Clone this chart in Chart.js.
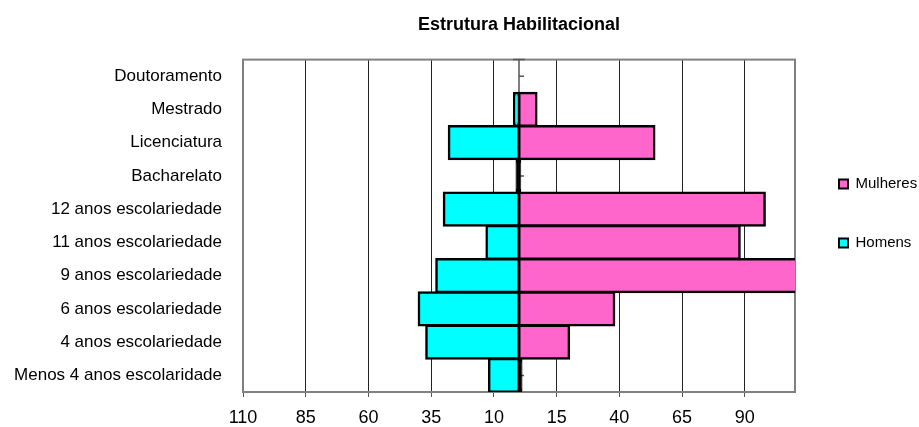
<!DOCTYPE html>
<html>
<head>
<meta charset="utf-8">
<script src="https://cdn.jsdelivr.net/npm/chart.js@4"></script>
<style>
  body { margin: 0; background: #fff; }
  #wrap { width: 919px; height: 427px; }
</style>
</head>
<body>
<div id="wrap"><canvas id="chart"></canvas></div>
<script>
const categories = [
    'Doutoramento',
    'Mestrado',
    'Licenciatura',
    'Bacharelato',
    '12 anos escolariedade',
    '11 anos escolariedade',
    '9 anos escolariedade',
    '6 anos escolariedade',
    '4 anos escolariedade',
    'Menos 4 anos escolaridade'
];
const mulheres = [0, 7, 54, 0.5, 98, 88, 118, 38, 20, 1];
const homens = [0, 2, 28, 1, 30, 13, 33, 40, 37, 12];
const xTicks = [-110, -85, -60, -35, -10, 15, 40, 65, 90];

const font = 'Liberation Sans, Arial, sans-serif';

// very thin bars are all border in the original, so paint them black
const fillFor = (color) => (c) => Math.abs(c.raw) < 1.5 ? '#000' : color;

// frame round the plot + centre axis with its little ticks (under the bars)
const axisPlugin = {
    id: 'axisPlugin',
    beforeDatasetsDraw(chart) {
        const { ctx, chartArea: a, scales: { x, y } } = chart;
        const x0 = x.getPixelForValue(0);
        ctx.save();
        ctx.strokeStyle = '#808080';
        ctx.lineWidth = 2;
        ctx.strokeRect(a.left, a.top, a.right - a.left, a.bottom - a.top);
        ctx.strokeStyle = '#555';
        ctx.lineWidth = 1.5;
        ctx.beginPath();
        ctx.moveTo(x0, a.top);
        ctx.lineTo(x0, a.bottom);
        ctx.moveTo(x0 - 6, a.top);
        ctx.lineTo(x0 + 6, a.top);
        categories.forEach((c, i) => {
            const py = y.getPixelForValue(i);
            ctx.moveTo(x0, py);
            ctx.lineTo(x0 + 5, py);
        });
        ctx.stroke();
        ctx.restore();
    }
};

new Chart(document.getElementById('chart'), {
    type: 'bar',
    data: {
        labels: categories,
        datasets: [
            {
                label: 'Mulheres',
                data: mulheres,
                backgroundColor: fillFor('#ff66cc'),
                borderColor: '#000',
                borderWidth: 2.5,
                borderSkipped: false,
                inflateAmount: 1,
                categoryPercentage: 1,
                barPercentage: 1
            },
            {
                label: 'Homens',
                data: homens.map(v => -v),
                backgroundColor: fillFor('#00ffff'),
                borderColor: '#000',
                borderWidth: 2.5,
                borderSkipped: false,
                inflateAmount: 1,
                categoryPercentage: 1,
                barPercentage: 1
            }
        ]
    },
    options: {
        indexAxis: 'y',
        responsive: true,
        maintainAspectRatio: false,
        animation: false,
        layout: { padding: { left: 0, right: 1, top: 0, bottom: 0 } },
        scales: {
            x: {
                stacked: true,
                min: -110,
                max: 110,
                afterBuildTicks: (scale) => {
                    scale.ticks = xTicks.map(v => ({ value: v }));
                },
                ticks: {
                    color: '#000',
                    font: { family: font, size: 18 },
                    padding: 10,
                    maxRotation: 0,
                    callback: (v) => Math.abs(v)
                },
                grid: {
                    color: '#222',
                    lineWidth: 1,
                    tickLength: 5,
                    tickColor: '#555'
                },
                border: { color: '#555', width: 2 },
                afterFit: (scale) => { scale.height = 35; }
            },
            y: {
                stacked: true,
                ticks: {
                    color: '#000',
                    font: { family: font, size: 17 },
                    padding: 13
                },
                grid: { display: false },
                border: { display: false },
                afterFit: (scale) => { scale.width = 243; }
            }
        },
        plugins: {
            title: {
                display: true,
                text: 'Estrutura Habilitacional',
                color: '#000',
                fullSize: false,
                font: { family: font, size: 18, weight: 'bold' },
                padding: { top: 14, bottom: 24 }
            },
            legend: {
                position: 'right',
                maxWidth: 123,
                labels: {
                    color: '#000',
                    font: { family: font, size: 15 },
                    boxWidth: 9,
                    boxHeight: 9,
                    padding: 44,
                    generateLabels: (chart) => chart.data.datasets.map((ds, i) => ({
                        text: ds.label,
                        fillStyle: i === 0 ? '#ff66cc' : '#00ffff',
                        strokeStyle: '#000',
                        lineWidth: 2,
                        datasetIndex: i
                    }))
                }
            },
            tooltip: { enabled: false }
        }
    },
    plugins: [axisPlugin]
});
</script>
</body>
</html>
